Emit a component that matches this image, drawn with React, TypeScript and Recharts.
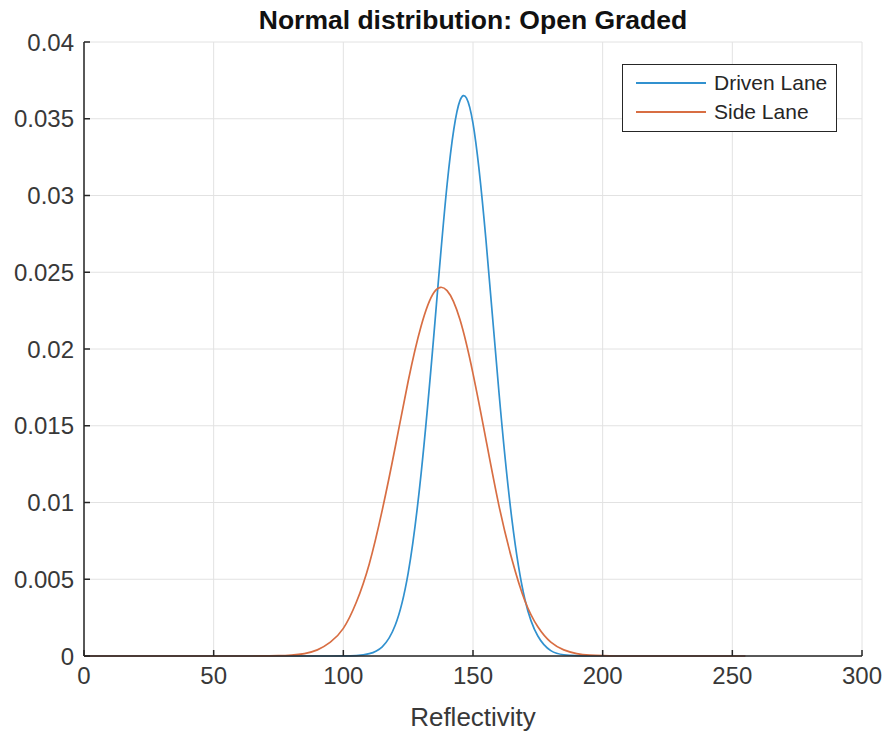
import { CartesianGrid, Legend, Line, LineChart, XAxis, YAxis } from "recharts";

const reflectivity = [
  0, 5, 10, 15, 20, 25, 30, 35, 40, 45, 50, 55, 60, 65, 70, 75, 80, 85, 90, 95,
  100, 105, 110, 115, 120, 125, 130, 135, 140, 145, 150, 155, 160, 165, 170,
  175, 180, 185, 190, 195, 200, 205, 210, 215, 220, 225, 230, 235, 240, 245,
  250, 255,
];

const drivenLane = [
  0, 0, 0, 0, 0, 0, 0, 0, 0, 0, 0, 0, 0, 0, 0, 0, 0, 0, 0, 0,
  0.000005, 0.00003, 0.00015, 0.0006, 0.002, 0.0054, 0.0119, 0.0211, 0.0307,
  0.0362, 0.0347, 0.0271, 0.0172, 0.0089, 0.0037, 0.0013, 0.00035, 0.00008,
  0.00002, 0, 0, 0, 0, 0, 0, 0, 0, 0, 0, 0, 0, 0,
];

const sideLane = [
  0, 0, 0, 0, 0, 0, 0, 0, 0, 0, 0, 0, 0, 0, 0.00001, 0.00002, 0.00006,
  0.00016, 0.0004, 0.0009, 0.0018, 0.0035, 0.006, 0.0095, 0.0136, 0.0179,
  0.0215, 0.0237, 0.0238, 0.0219, 0.0184, 0.0141, 0.0098, 0.0063, 0.0036,
  0.0019, 0.0009, 0.0004, 0.00016, 0.00006, 0.00002, 0, 0, 0, 0, 0, 0, 0, 0,
  0, 0, 0,
];

const xTicks = [0, 50, 100, 150, 200, 250, 300];
const yTicks = [0, 0.005, 0.01, 0.015, 0.02, 0.025, 0.03, 0.035, 0.04];

const data = reflectivity.map((x, i) => ({
  x,
  driven: drivenLane[i],
  side: sideLane[i],
}));

const font = "'Liberation Sans', Arial, Helvetica, sans-serif";
const axisColor = "#262626";
const blue = "#3191cf";
const orange = "#d86e43";

function LegendBox({ payload }: any) {
  return (
    <div
      style={{
        border: `1px solid ${axisColor}`,
        background: "#fff",
        padding: "3px 9px 4px 13px",
        fontFamily: font,
        fontSize: 21,
        color: axisColor,
      }}
    >
      {(payload || []).map((p: any) => (
        <div
          key={p.value}
          style={{ display: "flex", alignItems: "center", height: 29.5 }}
        >
          <svg width={70} height={4} style={{ marginRight: 8 }}>
            <line x1={0} y1={2} x2={70} y2={2} stroke={p.color} strokeWidth={1.8} />
          </svg>
          <span>{p.value}</span>
        </div>
      ))}
    </div>
  );
}

export default function App() {
  return (
    <div
      style={{
        position: "absolute",
        left: 0,
        top: 0,
        width: 883,
        height: 735,
        background: "#fff",
      }}
    >
      <div
        style={{
          position: "absolute",
          left: 84,
          width: 778,
          top: 3,
          textAlign: "center",
          fontFamily: font,
          fontWeight: "bold",
          fontSize: 26.5,
          lineHeight: "34px",
          color: "#111",
        }}
      >
        Normal distribution: Open Graded
      </div>
      <LineChart
        width={883}
        height={735}
        data={data}
        margin={{ top: 42, right: 21, bottom: 0, left: 0 }}
      >
        <CartesianGrid stroke="#e2e2e2" strokeWidth={1} />
        <XAxis
          type="number"
          dataKey="x"
          domain={[0, 300]}
          ticks={xTicks}
          height={79}
          stroke={axisColor}
          strokeWidth={1.5}
          tickSize={-6}
          tickMargin={17}
          tick={{ fill: "#383838", fontSize: 24, fontFamily: font }}
          label={{
            value: "Reflectivity",
            position: "insideBottom",
            offset: 9,
            fill: "#383838",
            fontSize: 26,
            fontFamily: font,
          }}
        />
        <YAxis
          type="number"
          domain={[0, 0.04]}
          ticks={yTicks}
          width={84}
          stroke={axisColor}
          strokeWidth={1.5}
          tickSize={-6}
          tickMargin={16}
          tickFormatter={(v: number) => String(v)}
          tick={{ fill: "#383838", fontSize: 24, fontFamily: font }}
        />
        <Legend
          layout="vertical"
          align="center"
          verticalAlign="middle"
          content={<LegendBox />}
          wrapperStyle={{ left: 622, top: 64, width: "auto", height: "auto" }}
        />
        <Line
          type="natural"
          dataKey="driven"
          name="Driven Lane"
          stroke={blue}
          strokeWidth={1.7}
          dot={false}
          isAnimationActive={false}
        />
        <Line
          type="natural"
          dataKey="side"
          name="Side Lane"
          stroke={orange}
          strokeWidth={1.7}
          dot={false}
          isAnimationActive={false}
        />
      </LineChart>
    </div>
  );
}
